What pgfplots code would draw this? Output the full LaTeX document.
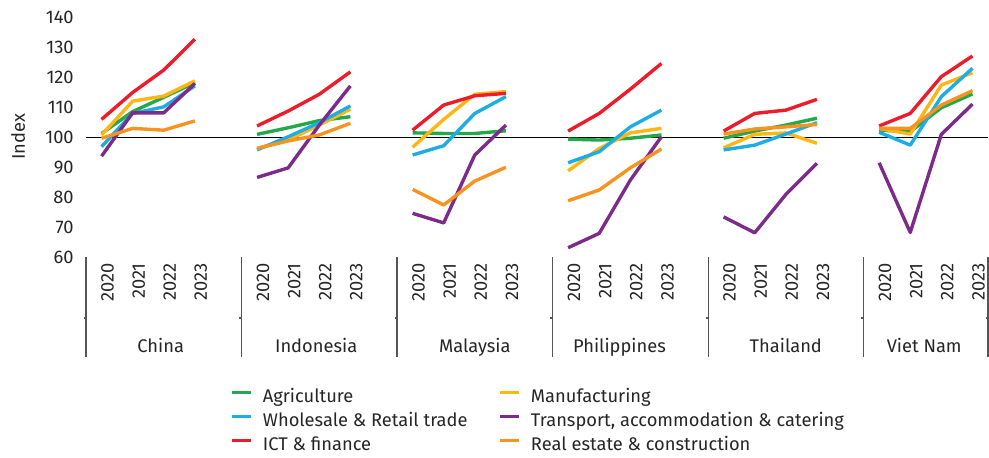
\documentclass[border=0pt]{standalone}
\usepackage{pgfplots}
\pgfplotsset{compat=1.18}
\usepackage{fontspec}
\setmainfont{Fira Sans}
\definecolor{cAgr}{HTML}{23A84B}
\definecolor{cMan}{HTML}{FDB714}
\definecolor{cWho}{HTML}{1DADE4}
\definecolor{cTra}{HTML}{7D2B8B}
\definecolor{cICT}{HTML}{EC1C2B}
\definecolor{cRea}{HTML}{F7931E}
\definecolor{sep}{HTML}{555555}
\begin{document}
\fontsize{18.3bp}{21bp}\selectfont
\begin{tikzpicture}
\useasboundingbox (0,0) rectangle (989bp,458bp);
\node[rotate=90, anchor=center, text=black!85] at (18bp,321bp) {Index};
\begin{axis}[
  at={(86bp,201bp)}, anchor=south west,
  scale only axis, width=902bp, height=239.3bp,
  xmin=-0.5, xmax=28.5, ymin=60, ymax=140,
  axis line style={draw=none},
  major tick length=0pt,
  ytick={60,70,...,140},
  yticklabel style={anchor=east, xshift=-6bp, text=black!85},
  xtick={0,1,2,3,5,6,7,8,10,11,12,13,15,16,17,18,20,21,22,23,25,26,27,28},
  xticklabels={2020,2021,2022,2023,2020,2021,2022,2023,2020,2021,2022,2023,2020,2021,2022,2023,2020,2021,2022,2023,2020,2021,2022,2023},
  xticklabel style={rotate=90, anchor=east, yshift=-6bp, text=black!85},
  /pgf/number format/assume math mode=true,
  /pgf/number format/1000 sep={},
  clip=false,
  unbounded coords=jump,
  every axis plot/.append style={line width=3.4pt, line join=round},
  legend columns=2,
  legend cell align=left,
  legend image code/.code={\draw[#1] (0bp,5.5bp) -- (19bp,5.5bp);},
  legend style={at={(0.16,-0.552)}, anchor=north west, draw=none, fill=none,
    inner sep=0pt, row sep=7bp,
    nodes={inner sep=0pt, text height=13bp, text depth=4bp, text=black!85},
    /tikz/every odd column/.append style={column sep=10bp},
    /tikz/every even column/.append style={column sep=31bp}},
]
\addplot[black, line width=1pt, forget plot] coordinates {(-0.5,100) (28.5,100)};
\addplot[cAgr] coordinates {
(0,101.3)(1,108.6)(2,113.4)(3,118.3)(4,nan)
(5,101.0)(6,103.2)(7,105.6)(8,106.9)(9,nan)
(10,101.5)(11,101.3)(12,101.3)(13,102.2)(14,nan)
(15,99.4)(16,99.1)(17,99.7)(18,100.8)(19,nan)
(20,99.7)(21,102.1)(22,104.1)(23,106.4)(24,nan)
(25,102.4)(26,101.9)(27,109.9)(28,114.5)};
\addlegendentry{Agriculture}
\addplot[cMan] coordinates {
(0,100.8)(1,112.1)(2,113.8)(3,118.9)(4,nan)
(5,96.3)(6,99.1)(7,104.1)(8,109.4)(9,nan)
(10,96.7)(11,106.0)(12,114.4)(13,115.3)(14,nan)
(15,88.8)(16,96.3)(17,101.5)(18,103.0)(19,nan)
(20,96.5)(21,101.0)(22,101.5)(23,98.0)(24,nan)
(25,103.0)(26,101.1)(27,117.5)(28,121.6)};
\addlegendentry{Manufacturing}
\addplot[cWho] coordinates {
(0,96.9)(1,108.0)(2,110.2)(3,117.2)(4,nan)
(5,95.8)(6,100.2)(7,104.9)(8,110.5)(9,nan)
(10,94.1)(11,97.2)(12,108.0)(13,113.6)(14,nan)
(15,91.5)(16,95.2)(17,103.5)(18,109.1)(19,nan)
(20,95.8)(21,97.4)(22,101.1)(23,104.9)(24,nan)
(25,101.7)(26,97.4)(27,113.6)(28,123.1)};
\addlegendentry{Wholesale \& Retail trade}
\addplot[cTra] coordinates {
(0,93.7)(1,108.2)(2,108.2)(3,118.0)(4,nan)
(5,86.6)(6,89.8)(7,104.1)(8,117.2)(9,nan)
(10,74.6)(11,71.4)(12,94.1)(13,104.1)(14,nan)
(15,63.1)(16,67.9)(17,85.7)(18,100.2)(19,nan)
(20,73.4)(21,68.1)(22,80.9)(23,91.3)(24,nan)
(25,91.5)(26,68.2)(27,101.0)(28,111.1)};
\addlegendentry{Transport, accommodation \& catering}
\addplot[cICT] coordinates {
(0,106.0)(1,115.0)(2,122.5)(3,132.8)(4,nan)
(5,103.8)(6,108.8)(7,114.4)(8,121.9)(9,nan)
(10,102.4)(11,110.8)(12,113.9)(13,114.7)(14,nan)
(15,102.1)(16,108.0)(17,116.1)(18,124.7)(19,nan)
(20,102.1)(21,108.0)(22,109.1)(23,112.7)(24,nan)
(25,103.8)(26,108.0)(27,120.3)(28,127.2)};
\addlegendentry{ICT \& finance}
\addplot[cRea] coordinates {
(0,99.7)(1,103.0)(2,102.4)(3,105.5)(4,nan)
(5,96.3)(6,98.8)(7,100.8)(8,104.7)(9,nan)
(10,82.6)(11,77.4)(12,85.4)(13,90.0)(14,nan)
(15,78.8)(16,82.4)(17,89.8)(18,96.1)(19,nan)
(20,101.1)(21,102.8)(22,103.5)(23,104.3)(24,nan)
(25,103.0)(26,103.0)(27,110.8)(28,115.6)};
\addlegendentry{Real estate \& construction}
\foreach \s in {-0.5,4.5,9.5,14.5,19.5,24.5,28.5} {
  \edef\tmp{\noexpand\draw[sep, line width=1.1pt] (axis cs:\s,60) -- ([yshift=-100bp]axis cs:\s,60);
    \noexpand\draw[sep, line width=1.1pt] ([yshift=-61bp]axis cs:\s,60) -- ([yshift=-61bp, xshift=-2.5bp]axis cs:\s,60);}\tmp
}
\node[anchor=base, text=black!85] at ([yshift=-95bp]axis cs:1.9,60) {China};
\node[anchor=base, text=black!85] at ([yshift=-95bp]axis cs:6.9,60) {Indonesia};
\node[anchor=base, text=black!85] at ([yshift=-95bp]axis cs:12,60) {Malaysia};
\node[anchor=base, text=black!85] at ([yshift=-95bp]axis cs:16.65,60) {Philippines};
\node[anchor=base, text=black!85] at ([yshift=-95bp]axis cs:22,60) {Thailand};
\node[anchor=base, text=black!85] at ([yshift=-95bp]axis cs:26.45,60) {Viet Nam};
\end{axis}
\end{tikzpicture}
\end{document}
